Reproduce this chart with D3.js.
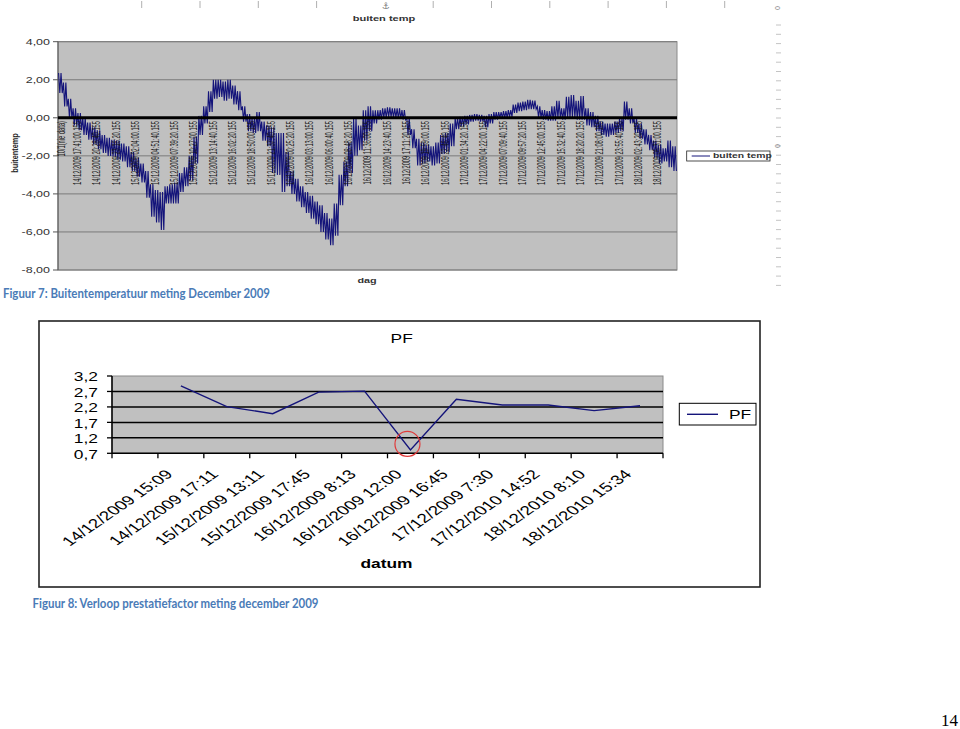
<!DOCTYPE html>
<html><head><meta charset="utf-8">
<script src="https://cdn.jsdelivr.net/npm/d3@7"></script>
<style>body{margin:0;background:#fff} svg{display:block}</style>
</head><body><svg id="c" width="960" height="729"></svg>
<script>
// ---------- DATA: top chart (buiten temp) ----------
const tempTickValues = [4, 2, 0, -2, -4, -6, -8];
const tempLabels = ["10/1(nie data)",
 "14/12/2009 17:41:00.155","14/12/2009 20:28:40.155","14/12/2009 23:16:20.155",
 "15/12/2009 02:04:00.155","15/12/2009 04:51:40.155","15/12/2009 07:39:20.155","15/12/2009 10:27:00.155",
 "15/12/2009 13:14:40.155","15/12/2009 16:02:20.155","15/12/2009 18:50:00.155","15/12/2009 21:37:40.155",
 "16/12/2009 00:25:20.155","16/12/2009 03:13:00.155","16/12/2009 06:00:40.155","16/12/2009 08:48:20.155",
 "16/12/2009 11:36:00.155","16/12/2009 14:23:40.155","16/12/2009 17:11:20.155","16/12/2009 19:59:00.155",
 "16/12/2009 22:46:40.155","17/12/2009 01:34:20.155","17/12/2009 04:22:00.155","17/12/2009 07:09:40.155",
 "17/12/2009 09:57:20.155","17/12/2009 12:45:00.155","17/12/2009 15:32:40.155","17/12/2009 18:20:20.155",
 "17/12/2009 21:08:00.155","17/12/2009 23:55:40.155","18/12/2009 02:43:20.155","18/12/2009 05:31:00.155"];
// per quarter-label interval: highest and lowest reading
const tempHigh = [2.35,1.85,1.0,0.5,0.25,0.0,-0.25,-0.5,-0.65,-0.9,
-1.05,-1.15,-1.2,-1.35,-1.5,-1.8,-2.1,-2.4,-2.8,-3.5,
-3.8,-3.9,-3.6,-3.5,-3.4,-2.9,-2.6,-2.0,-1.0,0.1,
0.6,1.4,2.0,2.0,1.9,2.0,1.7,1.4,0.6,0.2,
0.0,0.3,-0.2,-0.4,-0.5,-0.8,-0.8,-1.8,-2.8,-3.2,
-3.6,-3.9,-4.1,-4.4,-4.6,-5.0,-5.3,-4.5,-3.0,-2.3,
-1.3,0.0,-0.4,0.4,0.6,0.4,0.4,0.5,0.55,0.5,
0.5,0.4,0.0,-0.6,-1.1,-1.3,-1.4,-1.5,-1.3,-0.9,
-0.8,-0.3,0.0,0.05,0.1,0.15,0.2,0.15,0.1,0.2,
0.3,0.3,0.35,0.4,0.7,0.8,0.85,0.95,0.9,0.6,
0.4,0.35,0.6,0.9,0.5,1.1,1.2,0.9,1.15,0.5,
0.3,0.1,-0.2,-0.3,-0.3,-0.2,0.0,0.85,0.5,0.0,
-0.3,-0.6,-0.9,-1.2,-1.4,-1.6,-1.2,-1.5];
const tempLow = [1.3,0.6,-0.05,-0.4,-0.65,-0.9,-1.15,-1.4,-1.65,-1.85,
-2.0,-2.05,-2.2,-2.3,-2.6,-2.8,-3.1,-3.4,-4.2,-5.2,
-5.5,-5.9,-4.5,-4.5,-4.5,-3.9,-3.6,-3.3,-2.4,-0.9,
-0.3,0.3,1.0,1.1,0.9,1.0,0.7,0.4,-0.2,-0.7,
-0.8,-0.7,-1.2,-1.5,-2.9,-3.0,-3.9,-3.6,-4.0,-4.4,
-4.7,-5.0,-5.3,-5.6,-6.0,-6.4,-6.7,-6.2,-4.6,-3.6,
-2.9,-2.0,-1.7,-1.2,-0.7,-0.3,-0.1,0.0,0.05,0.0,
-0.05,-0.1,-0.9,-1.6,-2.5,-2.4,-2.3,-2.5,-2.4,-1.9,
-1.8,-1.5,-0.6,-0.45,-0.35,-0.2,-0.15,-0.2,-0.5,-0.3,
-0.1,0.0,0.0,0.05,0.25,0.35,0.4,0.45,0.45,0.0,
-0.1,-0.15,-0.15,-0.05,-0.1,-0.05,0.0,-0.1,-0.1,-0.4,
-0.5,-0.7,-0.9,-1.0,-0.9,-0.8,-0.7,-0.1,-0.3,-0.8,
-1.1,-1.4,-1.7,-2.1,-2.4,-2.3,-2.6,-2.8];

// ---------- DATA: PF chart ----------
const pfDates = ["", "14/12/2009 15:09","14/12/2009 17:11","15/12/2009 13:11","15/12/2009 17:45",
 "16/12/2009 8:13","16/12/2009 12:00","16/12/2009 16:45","17/12/2009 7:30",
 "17/12/2010 14:52","18/12/2010 8:10","18/12/2010 15:34"];
const pfValues = [null, 2.88, 2.21, 1.98, 2.68, 2.71, 0.81, 2.45, 2.26, 2.26, 2.08, 2.24];
const pfTicks = [3.2, 2.7, 2.2, 1.7, 1.2, 0.7];
const pfHighlight = 6; // circled point

const captions = ["Figuur 7: Buitentemperatuur meting December 2009",
                  "Figuur 8: Verloop prestatiefactor meting december 2009"];
const pageNumber = "14";

// ---------- DRAW ----------
const svg = d3.select("#c");
const SANS = "'Liberation Sans', Arial, sans-serif";
const navy = "#14147a";
const comma = v => String(v).replace(".", ",");

function stext(g, x, y, str, o) {
  o = o || {};
  return g.append("text")
    .attr("transform", `translate(${x},${y}) scale(${o.sx||1},${o.sy||1}) rotate(${o.rot||0})`)
    .attr("font-family", o.family || SANS)
    .attr("font-size", o.size || 10)
    .attr("font-weight", o.weight || "normal")
    .attr("fill", o.fill || "#000")
    .attr("text-anchor", o.anchor || "start")
    .attr("dy", o.dy || "0")
    .text(str);
}

// ===== Top chart =====
const gTop = svg.append("g");
// page ruler marks (artifacts)
for (let i = 0; i < 11; i++) {
  const x = 141.7 + i * 58.3;
  if (Math.abs(x - 374) < 10) continue;
  gTop.append("line").attr("x1", x).attr("x2", x).attr("y1", 1).attr("y2", 8).attr("stroke", "#b0b0b0");
}
gTop.append("text").attr("x", 385.7).attr("y", 9).attr("font-size", 9).attr("text-anchor", "middle")
  .attr("fill", "#777").attr("font-family", "DejaVu Sans").text("⚓");
for (let i = 0; i < 29; i++) {
  const y = 25 + i * 9.3;
  gTop.append("line").attr("x1", 776).attr("x2", 781).attr("y1", y).attr("y2", y).attr("stroke", "#c4c4c4");
}
stext(gTop, 777, 8, "0", {rot: 90, size: 7, fill: "#888", anchor: "middle", dy: "0.35em"});
stext(gTop, 777, 146, "0", {rot: 90, size: 7, fill: "#888", anchor: "middle", dy: "0.35em"});

const xT = d3.scaleLinear().domain([0, 32]).range([58, 677]);
const yT = d3.scaleLinear().domain([-8, 4]).range([270, 41.7]);

gTop.append("rect").attr("x", xT(0)).attr("y", yT(4)).attr("width", xT(32) - xT(0)).attr("height", yT(-8) - yT(4))
  .attr("fill", "#c0c0c0").attr("stroke", "#8a8a8a");
tempTickValues.forEach(v => {
  if (v !== 0) gTop.append("line").attr("x1", xT(0)).attr("x2", xT(32)).attr("y1", yT(v)).attr("y2", yT(v))
    .attr("stroke", "#7a7a7a").attr("stroke-width", 1);
  gTop.append("line").attr("x1", xT(0) - 5).attr("x2", xT(0)).attr("y1", yT(v)).attr("y2", yT(v)).attr("stroke", "#555");
  stext(gTop, 50, yT(v), comma(v.toFixed(2)), {size: 10, sx: 1.25, sy: 0.88, anchor: "end", dy: "0.35em", fill: "#333"});
});
gTop.append("line").attr("x1", xT(0)).attr("x2", xT(0)).attr("y1", yT(4)).attr("y2", yT(-8)).attr("stroke", "#555");

// temperature line: within each interval the reading swings between its high and low
const tempPts = [];
tempHigh.forEach((h, i) => {
  for (let j = 0; j < 4; j++) tempPts.push([i / 4 + (j + 0.5) / 16, j % 2 === 0 ? h : tempLow[i]]);
});
gTop.append("path").datum(tempPts)
  .attr("d", d3.line().x(d => xT(d[0])).y(d => yT(d[1])))
  .attr("fill", "none").attr("stroke", navy).attr("stroke-width", 1.1);

// zero axis
gTop.append("line").attr("x1", xT(0)).attr("x2", xT(32)).attr("y1", yT(0)).attr("y2", yT(0))
  .attr("stroke", "#000").attr("stroke-width", 3);

// category labels
tempLabels.forEach((s, k) => {
  stext(gTop, xT(k) + (k === 0 ? 3 : 0), 121, s, {rot: -90, size: 9, sx: 1.2, sy: 0.64, anchor: "end", dy: "0.35em", fill: "#151515"});
});

stext(gTop, 384, 21, "buiten temp", {size: 8.5, sx: 1.3, sy: 0.85, anchor: "middle", weight: "bold", fill: "#333"});
stext(gTop, 367, 283, "dag", {size: 9, sx: 1.2, sy: 0.8, anchor: "middle", weight: "bold", fill: "#333"});
stext(gTop, 15, 153, "buitentemp", {size: 9, sx: 1.0, sy: 0.82, rot: -90, anchor: "middle", weight: "bold", dy: "0.35em", fill: "#222"});

// legend
gTop.append("rect").attr("x", 686.7).attr("y", 151).attr("width", 83.3).attr("height", 10).attr("fill", "#fff").attr("stroke", "#222").attr("stroke-width", 0.8);
gTop.append("line").attr("x1", 691.7).attr("x2", 710).attr("y1", 156).attr("y2", 156).attr("stroke", navy);
stext(gTop, 713, 156, "buiten temp", {size: 8, sx: 1.3, sy: 0.8, dy: "0.35em", weight: "bold", fill: "#333"});

// ===== Captions =====
svg.append("text").attr("x", 3).attr("y", 298).attr("font-family", "Lato, 'Open Sans', sans-serif")
  .attr("font-weight", "bold").attr("font-size", 13).attr("fill", "#4a7bb7")
  .attr("textLength", 267).attr("lengthAdjust", "spacingAndGlyphs").text(captions[0]);
svg.append("text").attr("x", 32.5).attr("y", 608).attr("font-family", "Lato, 'Open Sans', sans-serif")
  .attr("font-weight", "bold").attr("font-size", 13).attr("fill", "#4a7bb7")
  .attr("textLength", 286).attr("lengthAdjust", "spacingAndGlyphs").text(captions[1]);
svg.append("text").attr("x", 958).attr("y", 726).attr("font-family", "'Liberation Serif', 'Times New Roman', serif")
  .attr("font-size", 17).attr("text-anchor", "end").attr("fill", "#000").text(pageNumber);

// ===== PF chart =====
const gPF = svg.append("g");
const SX = 1.45;
gPF.append("rect").attr("x", 39).attr("y", 321).attr("width", 721).attr("height", 266)
  .attr("fill", "#fff").attr("stroke", "#222").attr("stroke-width", 1.6);

const xP = d3.scaleBand().domain(d3.range(pfDates.length)).range([112, 663]).padding(0);
const yP = d3.scaleLinear().domain([0.7, 3.2]).range([453.3, 376]);

gPF.append("rect").attr("x", 112).attr("y", yP(3.2)).attr("width", 663 - 112).attr("height", yP(0.7) - yP(3.2))
  .attr("fill", "#c0c0c0").attr("stroke", "#8a8a8a");
pfTicks.forEach(v => {
  if (v !== 3.2) gPF.append("line").attr("x1", 112).attr("x2", 663).attr("y1", yP(v)).attr("y2", yP(v))
    .attr("stroke", "#000").attr("stroke-width", 1.5);
  gPF.append("line").attr("x1", 107).attr("x2", 112).attr("y1", yP(v)).attr("y2", yP(v)).attr("stroke", "#000").attr("stroke-width", 1.3);
  stext(gPF, 98, yP(v) + 1, comma(v), {size: 12, sx: SX, anchor: "end", dy: "0.35em"});
});
gPF.append("line").attr("x1", 112).attr("x2", 112).attr("y1", yP(3.2)).attr("y2", yP(0.7)).attr("stroke", "#000").attr("stroke-width", 1.5);
// x ticks at category boundaries
d3.range(pfDates.length + 1).forEach(i => {
  const x = i < pfDates.length ? xP(i) : xP.range()[1];
  gPF.append("line").attr("x1", x).attr("x2", x).attr("y1", yP(0.7)).attr("y2", yP(0.7) + 5).attr("stroke", "#000").attr("stroke-width", 1.3);
});
// x labels
pfDates.forEach((s, i) => {
  if (!s) return;
  const xc = xP(i) + xP.bandwidth() / 2;
  stext(gPF, xc - 12, 472, s, {size: 13, sx: SX, rot: -45, anchor: "end", dy: "0.35em"});
});

// line
const pfPts = pfValues.map((v, i) => [i, v]).filter(d => d[1] != null);
gPF.append("path").datum(pfPts)
  .attr("d", d3.line().x(d => xP(d[0]) + xP.bandwidth() / 2).y(d => yP(d[1])))
  .attr("fill", "none").attr("stroke", navy).attr("stroke-width", 1.4);

// highlight circle
gPF.append("circle")
  .attr("cx", xP(pfHighlight) + xP.bandwidth() / 2 - 3)
  .attr("cy", yP(pfValues[pfHighlight]) - 6)
  .attr("r", 12.5).attr("fill", "none").attr("stroke", "#e03a3a").attr("stroke-width", 1.2);

stext(gPF, 401.7, 339, "PF", {size: 12, sx: SX, anchor: "middle", dy: "0.35em"});
stext(gPF, 386.5, 568, "datum", {size: 12, sx: SX, anchor: "middle", weight: "bold"});

// legend
gPF.append("rect").attr("x", 679.3).attr("y", 403.3).attr("width", 76.7).attr("height", 21.7)
  .attr("fill", "#fff").attr("stroke", "#000").attr("stroke-width", 1);
gPF.append("line").attr("x1", 687).attr("x2", 718).attr("y1", 414.3).attr("y2", 414.3).attr("stroke", navy).attr("stroke-width", 1.4);
stext(gPF, 729, 414.3, "PF", {size: 12, sx: SX, dy: "0.35em"});
</script></body></html>
